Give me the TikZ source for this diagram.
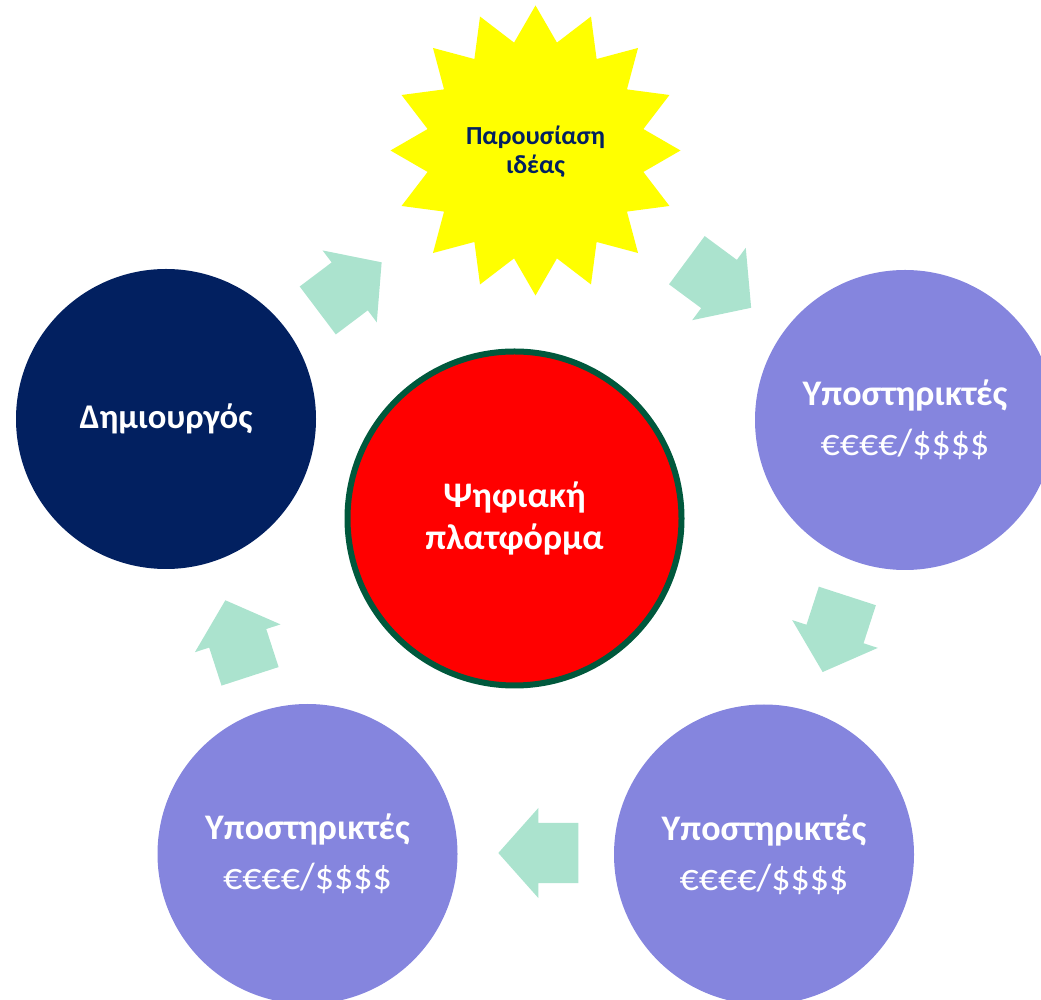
\documentclass[tikz,border=0pt]{standalone}
\usepackage{fontspec}
\setmainfont{Carlito}
\definecolor{navy}{HTML}{022060}
\definecolor{lilac}{HTML}{8585DE}
\definecolor{ringgreen}{HTML}{00583C}
\definecolor{mint}{RGB}{171,227,206}
\definecolor{staryellow}{HTML}{FFFF00}
\definecolor{platred}{HTML}{FF0000}
\tikzset{
  disc/.style={circle, inner sep=0pt, minimum size=225pt, text=white, align=center},
  supporter/.style={disc, fill=lilac, font=\fontsize{27}{37.5}\selectfont},
  blockarrow/.style={fill=mint},
}
\newcommand{\supptext}{\textbf{Υποστηρικτές}\\ {\fontsize{28.5}{37.5}\selectfont €€€€/\$\$\$\$}}
\begin{document}
\begin{tikzpicture}[x=0.75pt,y=0.75pt]
\useasboundingbox (0,0) rectangle (1041,999);
\clip (0,0) rectangle (1041,999);
% star
\fill[staryellow, shift={(535.5,848.5)}] (90:145)
  \foreach \i in {0,...,15} { -- ({90+22.5*\i+11.25}:110) -- ({90+22.5*(\i+1)}:145) } -- cycle;
\node[text=navy, align=center, font=\fontsize{19.5}{22}\selectfont\bfseries] (idea) at (535.5,847) {Παρουσίαση\\ιδέας};
% circles
\node[disc, fill=navy, font=\fontsize{26}{30}\selectfont\bfseries] (creator) at (166,580) {Δημιουργός};
\node[supporter] (s1) at (905,579) {\supptext};
\node[supporter] (s2) at (764,144.5) {\supptext};
\node[supporter] (s3) at (307.5,145) {\supptext};
\node[circle, inner sep=0pt, minimum size=250.5pt, fill=platred, draw=ringgreen, line width=4.5pt,
      text=white, align=center, font=\fontsize{27}{31.5}\selectfont\bfseries] (platform) at (514.5,480.5) {Ψηφιακή\\πλατφόρμα};
% block arrows
\foreach \cx/\cy/\a in {349.7/712.6/37, 719/715/-36.5, 835/365/-108, 538.3/146/180, 237.7/360.7/108}{
  \fill[blockarrow, shift={(\cx,\cy)}, rotate=\a] (40,0) -- (0,45) -- (0,30) -- (-40,30) -- (-40,-30) -- (0,-30) -- (0,-45) -- cycle;
}
\end{tikzpicture}
\end{document}
